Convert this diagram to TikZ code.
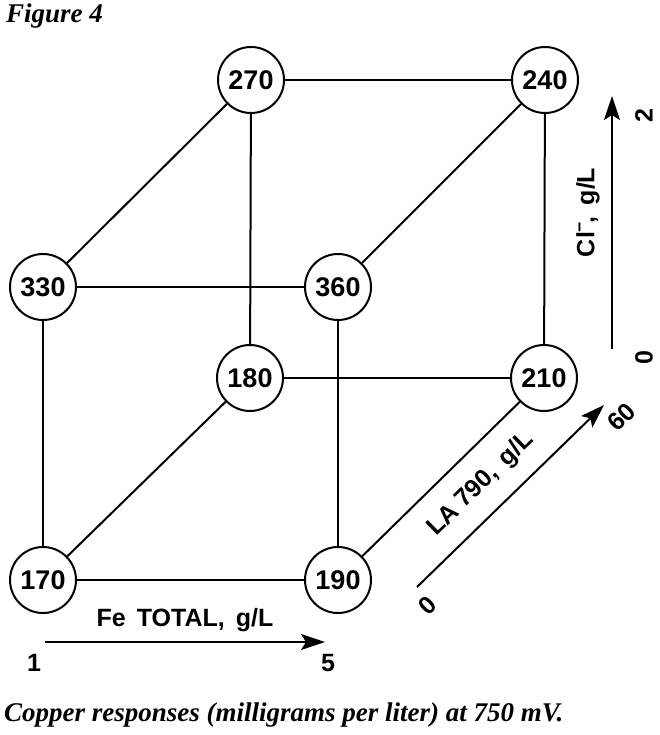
\documentclass[tikz,border=0pt]{standalone}
\usepackage{fontspec}
\setmainfont{Liberation Sans}
\newfontfamily\capfont{Liberation Serif}
\usetikzlibrary{arrows.meta}
\tikzset{
  resp/.style={circle,draw,line width=2pt,minimum size=66pt,inner sep=0pt,font=\fontsize{27}{27}\selectfont\bfseries},
  axlabel/.style={font=\fontsize{25}{25}\selectfont\bfseries},
  edge/.style={line width=2pt},
  titletext/.style={anchor=base west,inner sep=0pt,font=\capfont\fontsize{27}{27}\selectfont\bfseries\itshape},
}
\begin{document}
\begin{tikzpicture}[x=1pt,y=-1pt,>={Stealth[length=24pt,width=16pt,inset=5pt]}]
\useasboundingbox (0,0) rectangle (659,735);
% response values at the cube corners
\node[resp] (r270) at (251,80) {270};
\node[resp] (r240) at (545,80) {240};
\node[resp] (r330) at (43,287) {330};
\node[resp] (r360) at (338,287) {360};
\node[resp] (r180) at (250,378) {180};
\node[resp] (r210) at (544,378) {210};
\node[resp] (r170) at (43,580) {170};
\node[resp] (r190) at (338,580) {190};
\draw[edge] (r270) -- (r240);
\draw[edge] (r270) -- (r330);
\draw[edge] (r270) -- (r180);
\draw[edge] (r240) -- (r360);
\draw[edge] (r240) -- (r210);
\draw[edge] (r330) -- (r360);
\draw[edge] (r330) -- (r170);
\draw[edge] (r360) -- (r190);
\draw[edge] (r180) -- (r210);
\draw[edge] (r180) -- (r170);
\draw[edge] (r210) -- (r190);
\draw[edge] (r170) -- (r190);
% Fe axis
\coordinate (fe0) at (45,642);
\coordinate (fe1) at (325,642);
\draw[edge,->] (fe0) -- node[axlabel,above=6pt]{Fe\, TOTAL,\, g/L} (fe1);
\node[axlabel] (fe1l) at (34,663) {1};
\node[axlabel] (fe5l) at (328,663) {5};
% Cl axis
\coordinate (cl0) at (612,349);
\coordinate (cl1) at (612,96);
\draw[edge,->] (cl0) -- node[axlabel,rotate=90,above=8pt,pos=0.54]{Cl\textsuperscript{−}\kern-2pt,\, g/L} (cl1);
\node[axlabel,rotate=90] (cl0l) at (644,358) {0};
\node[axlabel,rotate=90] (cl2l) at (644,116) {2};
% LA 790 axis
\coordinate (la0) at (417,587);
\coordinate (la1) at (604,405);
\draw[edge,->] (la0) -- node[axlabel,sloped,above=13pt,pos=0.45]{LA 790,\, g/L} (la1);
\node[axlabel,rotate=44] (la0l) at (428,605) {0};
\node[axlabel,rotate=44] (la60l) at (622,417) {60};
% titles
\node[titletext] (fig) at (6,23) {Figure 4};
\node[titletext] (cap) at (4,721) {Copper responses (milligrams per liter) at 750 mV.};
\end{tikzpicture}
\end{document}
